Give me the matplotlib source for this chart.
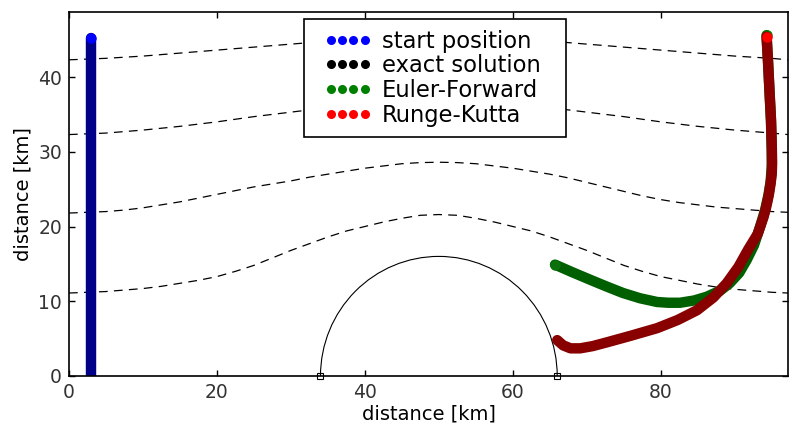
import matplotlib
matplotlib.use("Agg")
import matplotlib.pyplot as plt
from matplotlib.patches import Arc, Rectangle
from matplotlib.lines import Line2D

# streamlines (dashed)
stream_x_coarse = [0, 5, 10, 15, 20, 25, 30, 35, 40, 45, 50, 55, 60, 65, 70, 75, 80, 85, 90, 95, 97.2]
stream_1 = [42.3, 42.5, 42.8, 43.2, 43.6, 44.0, 44.4, 44.8, 45.1, 45.3, 45.4,
            45.3, 45.1, 44.8, 44.4, 44.0, 43.6, 43.2, 42.8, 42.5, 42.3]
stream_2 = [32.3, 32.5, 32.9, 33.4, 34.0, 34.7, 35.3, 35.9, 36.4, 36.8, 36.9,
            36.8, 36.4, 35.9, 35.3, 34.7, 34.0, 33.4, 32.9, 32.5, 32.3]

stream_x_fine = [0, 2.5, 5, 7.5, 10, 12.5, 15, 17.5, 20, 22.5, 25, 27.5, 30, 32.5, 35, 37.5,
                 40, 42.5, 45, 47.5, 50, 52.5, 55, 57.5, 60, 62.5, 65, 67.5, 70, 72.5, 75,
                 77.5, 80, 82.5, 85, 87.5, 90, 92.5, 95, 97.2]
stream_3 = [21.8, 21.9, 22.0, 22.2, 22.5, 22.9, 23.3, 23.8, 24.3, 24.8, 25.3, 25.7, 26.1,
            26.6, 27.0, 27.4, 27.8, 28.1, 28.4, 28.55, 28.6, 28.55, 28.4, 28.1, 27.8, 27.4,
            27.0, 26.5, 25.9, 25.3, 24.7, 24.1, 23.6, 23.2, 22.9, 22.6, 22.4, 22.2, 22.0, 21.9]
stream_4 = [11.1, 11.2, 11.3, 11.5, 11.7, 12.0, 12.4, 12.8, 13.3, 14.0, 14.8, 15.8, 16.8,
            17.7, 18.6, 19.4, 20.0, 20.6, 21.1, 21.5, 21.6, 21.5, 21.1, 20.6, 20.0, 19.4,
            18.6, 17.7, 16.8, 15.8, 14.8, 14.0, 13.3, 12.8, 12.3, 11.9, 11.6, 11.4, 11.2, 11.1]

# obstacle (half circle)
obstacle_center = 50
obstacle_radius = 16

# start positions
start_x = [3.0, 3.0]
start_y = [0.0, 45.2]

# Euler-Forward trajectory
euler_x = [94.3, 94.5, 94.7, 94.9, 95.0, 95.0, 94.85, 94.55, 94.1, 93.4, 92.6, 91.6, 90.6,
           89.3, 88.0, 86.2, 84.5, 82.6, 81.0, 79.5, 77.2, 74.9, 72.6, 70.4, 68.0, 65.7]
euler_y = [45.6, 42.0, 38.0, 34.0, 30.0, 28.0, 26.0, 24.2, 22.2, 19.9, 17.5, 15.5, 13.8,
           12.4, 11.4, 10.6, 10.1, 9.8, 9.8, 9.9, 10.4, 11.1, 12.0, 12.9, 13.9, 14.9]

# Runge-Kutta trajectory
rk_x = [94.3, 94.5, 94.7, 94.9, 95.0, 95.05, 95.0, 94.85, 94.65, 94.45, 94.2, 93.9, 93.1,
        91.8, 90.5, 88.9, 87.1, 84.9, 82.3, 79.5, 76.0, 72.7, 70.8, 69.1, 67.8, 66.8, 66.0]
rk_y = [45.4, 42.0, 38.0, 34.3, 31.0, 28.5, 27.0, 25.8, 24.5, 23.5, 22.4, 21.3, 19.0,
        16.9, 14.6, 12.4, 10.5, 8.8, 7.5, 6.4, 5.4, 4.5, 4.0, 3.7, 3.7, 4.1, 4.8]

labels = ["start position", "exact solution", "Euler-Forward", "Runge-Kutta"]
colors = ["#0000ff", "#000000", "#008000", "#ff0000"]

plt.rcParams["font.size"] = 13.5

fig = plt.figure(figsize=(7.9, 4.28), dpi=100)
ax = fig.add_axes([0.0873, 0.1215, 0.9102, 0.8505])

ax.plot(stream_x_coarse, stream_1, color="black", lw=0.9, linestyle=(0, (7, 5)))
ax.plot(stream_x_coarse, stream_2, color="black", lw=0.9, linestyle=(0, (7, 5)))
ax.plot(stream_x_fine, stream_3, color="black", lw=0.9, linestyle=(0, (7, 5)))
ax.plot(stream_x_fine, stream_4, color="black", lw=0.9, linestyle=(0, (7, 5)))

ax.add_patch(Arc((obstacle_center, 0), 2 * obstacle_radius, 2 * obstacle_radius,
                 theta1=0, theta2=180, color="black", lw=0.8))
ax.plot([obstacle_center - obstacle_radius, obstacle_center + obstacle_radius], [0, 0],
        linestyle="none", marker="s", ms=4, mfc="none", mec="black", mew=0.8, clip_on=False)

ax.plot(start_x, start_y, color="#000088", lw=7.5, solid_capstyle="round")
ax.plot(start_x[-1], start_y[-1], "o", color=colors[0], ms=7.5, mew=0)

ax.plot(euler_x, euler_y, color="#005f00", lw=7.5, solid_capstyle="round", solid_joinstyle="round")
ax.plot(euler_x[-1], euler_y[-1], "o", color="#0c700c", ms=7.5, mew=0)
ax.plot(euler_x[0], euler_y[0], "o", color=colors[2], ms=7.5, mew=0)

ax.plot(rk_x, rk_y, color="#880000", lw=7.5, solid_capstyle="round", solid_joinstyle="round")
ax.plot(rk_x[0], rk_y[0], "o", color=colors[3], ms=7.5, mew=0)

ax.set_xlim(0, 97.2)
ax.set_ylim(0, 48.7)
ax.set_xticks([0, 20, 40, 60, 80])
ax.set_yticks([0, 10, 20, 30, 40])
ax.tick_params(direction="in", top=True, right=True, length=4, width=1, pad=5,
               color="black", labelcolor="#333333")
for s in ax.spines.values():
    s.set_linewidth(1.2)
ax.set_xlabel("distance [km]", labelpad=2, fontsize=14)
ax.set_ylabel("distance [km]", labelpad=4, fontsize=14)

# legend frame drawn separately so the padding can differ from the text spacing
ax.add_patch(Rectangle((0.3268, 0.6566), 0.3644, 0.3242, transform=ax.transAxes,
                       facecolor="white", edgecolor="black", lw=1.2, zorder=4.9))
handles = [Line2D([], [], linestyle="none", marker="o", ms=6.5, mew=0, color=c) for c in colors]
ax.legend(handles, labels, loc="upper left", bbox_to_anchor=(0.3547, 0.951),
          numpoints=4, frameon=False, labelspacing=0.07, handletextpad=0.45,
          handlelength=2.1, borderpad=0, borderaxespad=0, fontsize=16.3)

fig.savefig("out.png", dpi=100)
